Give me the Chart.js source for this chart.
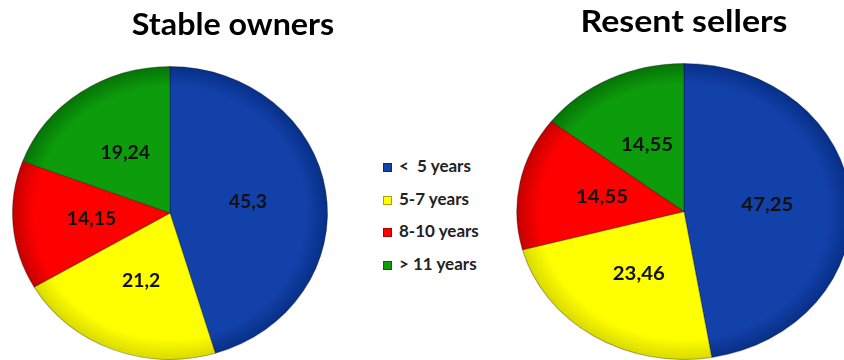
<!DOCTYPE html>
<html>
<head>
<meta charset="utf-8">
<script src="https://cdn.jsdelivr.net/npm/chart.js@4.4.1/dist/chart.umd.min.js"></script>
<style>
    html, body { margin: 0; padding: 0; background: #fff; }
    body { position: relative; width: 844px; height: 360px; overflow: hidden; }
    .pie { position: absolute; top: 0; }
    #legend { position: absolute; left: 383px; top: 150px; margin: 0; padding: 0; list-style: none;
              font-family: Lato, 'Open Sans', sans-serif; font-weight: bold; font-size: 17px; color: #222; }
    #legend li { height: 32.7px; line-height: 32.7px; white-space: pre; }
    #legend span { display: inline-block; width: 9px; height: 9px; margin-right: 7px; vertical-align: 0px;
                   box-sizing: border-box; border: 1px solid rgba(0,0,0,0.35); }
</style>
</head>
<body>
<canvas id="stableChart" class="pie" style="left:0px"></canvas>
<canvas id="sellersChart" class="pie" style="left:514px"></canvas>
<ul id="legend"></ul>
<script>
    // Age groups and shares (%) for both groups
    const categories = ['<  5 years', '5-7 years', '8-10 years', '> 11 years'];
    const stableOwners = [45.3, 21.2, 14.15, 19.24];
    const resentSellers = [47.25, 23.46, 14.55, 14.55];

    const sliceColors = ['#1341aa', '#ffff00', '#ff0000', '#0c9c0c'];
    const edgeColors = ['#062f86', '#d9d900', '#c40000', '#067206'];

    // comma as decimal separator
    const fmt = v => String(v).replace('.', ',');

    // radial shading so each slice darkens towards the rim
    function shade(context) {
        const i = context.dataIndex;
        const chart = context.chart;
        const area = chart.chartArea;
        if (!area) return sliceColors[i];
        const cx = (area.left + area.right) / 2;
        const cy = (area.top + area.bottom) / 2;
        const r = Math.min(area.width, area.height) / 2;
        const g = chart.ctx.createRadialGradient(cx, cy, 0, cx, cy, r);
        g.addColorStop(0, sliceColors[i]);
        g.addColorStop(0.86, sliceColors[i]);
        g.addColorStop(1, edgeColors[i]);
        return g;
    }

    // draws text widened horizontally by sx around its anchor
    function wideText(ctx, text, x, y, sx) {
        ctx.save();
        ctx.translate(x, y);
        ctx.scale(sx, 1);
        ctx.fillText(text, 0, 0);
        ctx.restore();
    }

    // stretches the pie horizontally into an oval, then writes values and caption
    const ovalPie = {
        id: 'ovalPie',
        beforeDatasetsDraw(chart, args, opts) {
            const arc = chart.getDatasetMeta(0).data[0];
            const ctx = chart.ctx;
            ctx.save();
            ctx.translate(arc.x, arc.y);
            ctx.scale(opts.sx, 1);
            ctx.translate(-arc.x, -arc.y);
        },
        afterDatasetsDraw(chart, args, opts) {
            const ctx = chart.ctx;
            ctx.restore();
            const values = chart.data.datasets[0].data;
            ctx.save();
            ctx.font = 'bold 18px Lato, "Open Sans", sans-serif';
            ctx.fillStyle = '#111';
            ctx.textAlign = 'center';
            ctx.textBaseline = 'middle';
            chart.getDatasetMeta(0).data.forEach((arc, i) => {
                const p = arc.getProps(['x', 'y', 'startAngle', 'endAngle', 'outerRadius'], true);
                const mid = (p.startAngle + p.endAngle) / 2;
                const r = p.outerRadius * 0.5;
                wideText(ctx, fmt(values[i]), p.x + Math.cos(mid) * r * opts.sx, p.y + Math.sin(mid) * r, opts.sx);
            });
            ctx.font = 'bold 30px Lato, "Open Sans", sans-serif';
            ctx.fillStyle = '#000';
            ctx.textBaseline = 'alphabetic';
            wideText(ctx, opts.title, opts.titleX, opts.titleY, opts.sx);
            ctx.restore();
        }
    };

    function makePie(id, values, title, opts) {
        const canvas = document.getElementById(id);
        canvas.width = 340;
        canvas.height = 360;
        return new Chart(canvas.getContext('2d'), {
            type: 'pie',
            data: {
                labels: categories,
                datasets: [{
                    data: values,
                    backgroundColor: shade,
                    borderColor: 'rgba(0,0,0,0.3)',
                    borderWidth: 1
                }]
            },
            options: {
                responsive: false,
                animation: false,
                layout: { padding: { top: opts.top, bottom: 0, left: 0, right: 0 } },
                plugins: {
                    legend: { display: false },
                    tooltip: { enabled: false },
                    ovalPie: { sx: opts.sx, title: title, titleX: opts.titleX, titleY: opts.titleY }
                }
            },
            plugins: [ovalPie]
        });
    }

    makePie('stableChart', stableOwners, 'Stable owners', { top: 66, sx: 1.075, titleX: 233, titleY: 35 });
    makePie('sellersChart', resentSellers, 'Resent sellers', { top: 63, sx: 1.13, titleX: 170, titleY: 32 });

    // legend rows
    const legend = document.getElementById('legend');
    categories.forEach((name, i) => {
        const li = document.createElement('li');
        const box = document.createElement('span');
        box.style.background = sliceColors[i];
        li.appendChild(box);
        li.appendChild(document.createTextNode(name));
        legend.appendChild(li);
    });
</script>
</body>
</html>
